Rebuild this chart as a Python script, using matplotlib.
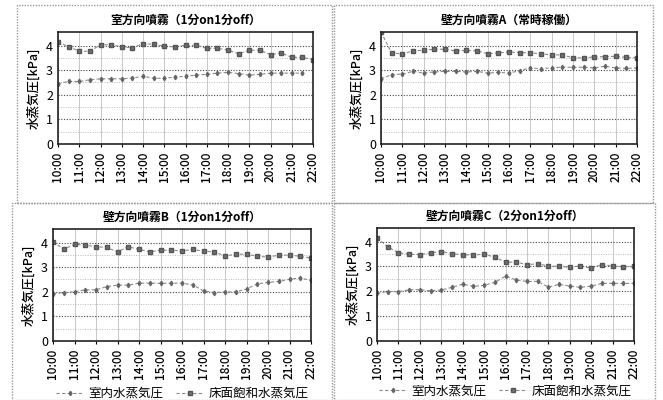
import numpy as np
import matplotlib.pyplot as plt
from matplotlib.patches import Rectangle

plt.rcParams['font.family'] = ['Noto Sans CJK JP', 'DejaVu Sans']

nan = np.nan
times = ['10:00', '11:00', '12:00', '13:00', '14:00', '15:00', '16:00',
         '17:00', '18:00', '19:00', '20:00', '21:00', '22:00']

titles = ['室方向噴霧（1分on1分off）', '壁方向噴霧A（常時稼働）',
          '壁方向噴霧B（1分on1分off）', '壁方向噴霧C（2分on1分off）']

# 床面飽和水蒸気圧 (upper), 30 min steps 10:00-22:00
sat1 = [4.14, 3.95, 3.77, 3.77, 4.03, 4.03, 3.95, 3.90, 4.08, 4.05, 3.97, 3.95, 4.01,
        4.01, 3.89, 3.89, 3.81, 3.67, 3.81, 3.81, 3.63, 3.70, 3.52, 3.52, 3.43]
sat2 = [4.55, 3.70, 3.66, 3.78, 3.81, 3.85, 3.85, 3.78, 3.80, 3.78, 3.67, 3.70, 3.74,
        3.71, 3.71, 3.66, 3.62, 3.62, 3.50, 3.50, 3.54, 3.55, 3.56, 3.52, 3.50]
sat3 = [4.03, 3.73, 3.93, 3.89, 3.83, 3.80, 3.62, 3.83, 3.72, 3.62, 3.69, 3.69, 3.66,
        3.72, 3.65, 3.62, 3.45, 3.53, 3.52, 3.45, 3.40, 3.49, 3.49, 3.44, 3.37]
sat4 = [4.16, 3.79, 3.56, 3.49, 3.48, 3.55, 3.60, 3.52, 3.47, 3.47, 3.49, 3.38, 3.17,
        3.18, 3.07, 3.11, 3.02, 3.00, 2.97, 3.02, 2.93, 3.08, 3.02, 2.99, 3.00]

# 室内水蒸気圧 (lower)
room1 = [2.45, 2.54, 2.54, 2.61, 2.65, 2.65, 2.65, 2.68, 2.75, 2.67, 2.67, 2.72, 2.75,
         2.80, 2.83, 2.88, 2.91, 2.86, 2.80, 2.83, 2.88, 2.88, 2.88, 2.88, nan]
room2 = [2.65, 2.82, 2.84, 2.95, 2.88, 2.93, 2.95, 2.95, 2.93, 2.95, 2.88, 2.91, 2.88,
         2.98, 3.09, 3.06, 3.09, 3.12, 3.12, 3.12, 3.09, 3.16, 3.09, 3.07, 3.09]
room3 = [1.92, 1.97, 2.00, 2.08, 2.08, 2.21, 2.27, 2.27, 2.35, 2.35, 2.34, 2.35, 2.35,
         2.28, 2.04, 1.97, 1.99, 2.00, 2.11, 2.32, 2.38, 2.42, 2.51, 2.56, 2.46]
room4 = [1.92, 1.99, 1.99, 2.06, 2.07, 2.02, 2.05, 2.16, 2.29, 2.20, 2.24, 2.36, 2.61,
         2.46, 2.40, 2.40, 2.17, 2.28, 2.21, 2.16, 2.21, 2.32, 2.32, 2.32, 2.32]

sats = [sat1, sat2, sat3, sat4]
rooms = [room1, room2, room3, room4]

fig = plt.figure(figsize=(6.63, 4.0), dpi=100)

# panel frames (pixels: x0, y0, x1, y1)
frames = [(17, 5, 332, 203), (334, 5, 653, 203), (12, 203, 332, 400), (334, 203, 655, 400)]
for x0, y0, x1, y1 in frames:
    fig.patches.append(Rectangle((x0 / 663, 1 - y1 / 400), (x1 - x0) / 663, (y1 - y0) / 400,
                                 transform=fig.transFigure, fill=False, ec='#999999',
                                 lw=1.0, ls=(0, (1, 1))))

axpos = [(58, 32, 313, 144), (381, 32, 637, 144), (53, 229, 311, 341), (377, 228, 634, 341)]
leg_y = [None, None, -0.355, -0.33]
x = np.arange(25)

for i in range(4):
    l, t, r, b = axpos[i]
    ax = fig.add_axes([l / 663, 1 - b / 400, (r - l) / 663, (b - t) / 400])
    ax.plot(x, rooms[i], color='#8a8a8a', ls=(0, (3, 2)), lw=0.8,
            marker='d', ms=2.3, mfc='#666666', mec='#666666', label='室内水蒸気圧')
    ax.plot(x, sats[i], color='#8a8a8a', ls=(0, (3, 2)), lw=0.8,
            marker='s', ms=3, mfc='#707070', mec='#555555', label='床面飽和水蒸気圧')
    ax.set_xlim(0, 24)
    ax.set_ylim(0, 4.55)
    ax.set_yticks([0, 1, 2, 3, 4])
    ax.set_yticks([0.5, 1.5, 2.5, 3.5], minor=True)
    ax.set_xticks(np.arange(0, 25, 2))
    ax.set_xticklabels(times, rotation=90, fontsize=8.5, fontweight='medium')
    ax.tick_params(axis='y', labelsize=9, length=0)
    ax.tick_params(axis='y', which='minor', length=0)
    ax.tick_params(axis='x', length=2)
    ax.grid(axis='y', which='major', color='#444444', ls=(0, (1, 1.5)), lw=0.8)
    ax.grid(axis='y', which='minor', color='#bbbbbb', ls=(0, (1, 1.5)), lw=0.7)
    ax.grid(axis='x', color='#c8c8c8', ls='-', lw=0.7)
    ax.set_axisbelow(True)
    for s in ax.spines.values():
        s.set_color('#222222')
        s.set_linewidth(1.2)
    ax.set_ylabel('水蒸気圧[kPa]', fontsize=9, labelpad=4, fontweight='medium')
    ax.set_title(titles[i], fontsize=8.5, pad=6, fontweight='bold')
    if i >= 2:
        ax.legend(loc='upper center', bbox_to_anchor=(0.5, leg_y[i]), ncol=2, frameon=False,
                  fontsize=9, handlelength=2.2, columnspacing=1.0, handletextpad=0.4,
                  borderpad=0)

fig.savefig('out.png', dpi=100)
